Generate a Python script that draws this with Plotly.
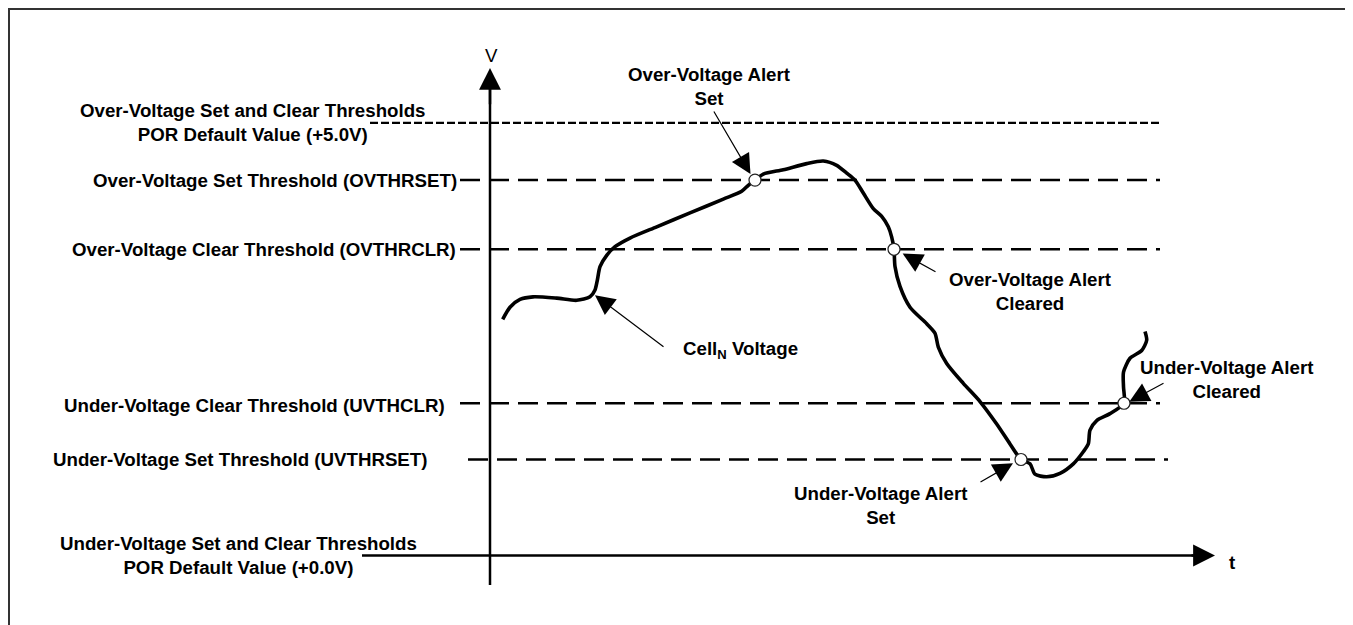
import plotly.graph_objects as go

# ---------------- data ----------------
# Cell_N voltage trace (time in arbitrary units, voltage in V)
t_cell = [1.27, 2.0, 3.0, 4.3, 6.67, 8.67, 10.0, 10.5, 10.73, 11.0, 11.67, 12.5, 14.0, 16.67,
          20.0, 23.33, 25.17, 25.83, 26.5, 27.33, 29.33, 31.67, 33.33, 34.67, 35.67, 36.5,
          37.33, 38.33, 39.17, 39.83, 40.17, 40.4, 40.5, 41.0, 42.0, 43.67, 44.5, 44.83,
          45.67, 47.33, 49.0, 50.67, 52.0, 53.1, 54.0, 54.5, 55.67, 57.0, 58.33, 59.33,
          59.83, 60.0, 60.67, 62.0, 63.4, 63.35, 63.35, 64.0, 65.17, 65.67, 65.5]
v_cell = [2.73, 2.87, 2.96, 2.99, 2.975, 2.95, 2.99, 3.07, 3.18, 3.34, 3.47, 3.57, 3.67, 3.80,
          3.96, 4.12, 4.21, 4.28, 4.34, 4.41, 4.46, 4.53, 4.56, 4.51, 4.42, 4.34,
          4.19, 4.01, 3.92, 3.80, 3.68, 3.54, 3.34, 3.11, 2.87, 2.68, 2.57, 2.41,
          2.22, 1.99, 1.78, 1.52, 1.29, 1.11, 1.06, 0.94, 0.91, 0.95, 1.06, 1.20,
          1.29, 1.45, 1.56, 1.64, 1.76, 1.95, 2.12, 2.28, 2.37, 2.49, 2.59]

# Thresholds (V)
thr_labels = ["Over-Voltage Set Threshold (OVTHRSET)",
              "Over-Voltage Clear Threshold (OVTHRCLR)",
              "Under-Voltage Clear Threshold (UVTHCLR)",
              "Under-Voltage Set Threshold (UVTHRSET)"]
thr_values = [4.34, 3.54, 1.76, 1.11]
thr_t_start = [-3.0, -3.0, -3.0, -2.2]
thr_t_end = [67.0, 67.0, 67.0, 67.8]
thr_label_t = [-3.1, -3.2, -4.3, -6.1]

por_labels = ["Over-Voltage Set and Clear Thresholds<br>POR Default Value (+5.0V)",
              "Under-Voltage Set and Clear Thresholds<br>POR Default Value (+0.0V)"]
por_values = [5.0, 0.0]
por_label_t = [-23.8, -25.2]

# Alert events (time, voltage, label, label position, arrow tail)
alert_t = [26.5, 40.4, 53.1, 63.4]
alert_v = [4.34, 3.54, 1.11, 1.76]
alert_labels = ["Over-Voltage Alert<br>Set", "Over-Voltage Alert<br>Cleared",
                "Under-Voltage Alert<br>Set", "Under-Voltage Alert<br>Cleared"]
alert_label_t = [21.9, 54.0, 39.0, 73.6]
alert_label_v = [5.42, 3.05, 0.58, 2.04]
alert_tail_t = [22.3, 44.7, 48.9, 67.5]
alert_tail_v = [5.15, 3.27, 0.84, 2.00]
alert_tip_t = [26.05, 41.27, 52.3, 63.93]
alert_tip_v = [4.41, 3.49, 1.066, 1.778]

cell_label = "Cell<sub>N</sub> Voltage"
cell_label_t, cell_label_v = 25.0, 2.376
cell_tail = (17.5, 2.40)
cell_tip = (10.5, 3.01)

# ---------------- figure ----------------
FONT = "Liberation Sans, Arial, sans-serif"
FS = 18.7
TXT = dict(family=FONT, size=FS, color="black")
W, H = 1345, 617
fig = go.Figure()

# POR default line (+5.0 V)
fig.add_trace(go.Scatter(x=[-12, 67], y=[por_values[0]] * 2, mode="lines",
                         line=dict(color="black", width=2.3, dash="8px,3px"),
                         hoverinfo="skip"))

# threshold lines
for v, t0, t1 in zip(thr_values, thr_t_start, thr_t_end):
    fig.add_trace(go.Scatter(x=[t0, t1], y=[v, v], mode="lines",
                             line=dict(color="black", width=2.5, dash="20px,9px"),
                             hoverinfo="skip"))

# axes lines
fig.add_trace(go.Scatter(x=[-12.8, 71], y=[0, 0], mode="lines",
                         line=dict(color="black", width=2.5), hoverinfo="skip"))
fig.add_trace(go.Scatter(x=[0, 0], y=[-0.34, 5.5], mode="lines",
                         line=dict(color="black", width=2.5), hoverinfo="skip"))

# cell voltage curve
fig.add_trace(go.Scatter(x=t_cell, y=v_cell, mode="lines",
                         line=dict(color="black", width=3.6, shape="spline", smoothing=0.7),
                         hoverinfo="skip"))

# alert points
fig.add_trace(go.Scatter(x=alert_t, y=alert_v, mode="markers",
                         marker=dict(size=12, color="white", line=dict(color="#222", width=1.2)),
                         hoverinfo="skip"))

annotations = []
# axis arrowheads
annotations.append(dict(x=0, y=5.636, ax=0, ay=5.2, xref="x", yref="y", axref="x", ayref="y",
                        text="", showarrow=True, arrowhead=2, arrowwidth=2.5, arrowsize=1.75,
                        arrowcolor="black"))
annotations.append(dict(x=72.5, y=0, ax=70, ay=0, xref="x", yref="y", axref="x", ayref="y",
                        text="", showarrow=True, arrowhead=2, arrowwidth=2.5, arrowsize=1.75,
                        arrowcolor="black"))
annotations.append(dict(x=0.1, y=5.78, xref="x", yref="y", text="V", showarrow=False,
                        font=TXT, xanchor="center", yanchor="middle"))
annotations.append(dict(x=74.2, y=-0.075, xref="x", yref="y", text="<b>t</b>", showarrow=False,
                        font=TXT, xanchor="center", yanchor="middle"))

# threshold labels
for lab, v, tx, ys in zip(thr_labels, thr_values, thr_label_t, [0, 0, -2, 0]):
    annotations.append(dict(x=tx, y=v, xref="x", yref="y", text="<b>" + lab + "</b>",
                            showarrow=False, xanchor="right", yanchor="middle", yshift=ys,
                            font=TXT))

for lab, v, tx in zip(por_labels, por_values, por_label_t):
    annotations.append(dict(x=tx, y=v, xref="x", yref="y", text="<b>" + lab + "</b>",
                            showarrow=False, xanchor="center", yanchor="middle", align="center",
                            font=TXT))

# alert labels + pointer arrows
for lab, lt, lv, at, av, pt, pv in zip(alert_labels, alert_label_t, alert_label_v,
                                       alert_tail_t, alert_tail_v, alert_tip_t, alert_tip_v):
    annotations.append(dict(x=lt, y=lv, xref="x", yref="y", text="<b>" + lab + "</b>",
                            showarrow=False, xanchor="center", yanchor="middle", align="center",
                            font=TXT))
    annotations.append(dict(x=pt, y=pv, ax=at, ay=av, xref="x", yref="y", axref="x", ayref="y",
                            text="", showarrow=True, arrowhead=2, arrowwidth=1.2, arrowsize=3.3,
                            arrowcolor="black"))

annotations.append(dict(x=cell_label_t, y=cell_label_v, xref="x", yref="y",
                        text="<b>" + cell_label + "</b>", showarrow=False,
                        xanchor="center", yanchor="middle", font=TXT))
annotations.append(dict(x=cell_tip[0], y=cell_tip[1], ax=cell_tail[0], ay=cell_tail[1],
                        xref="x", yref="y", axref="x", ayref="y", text="", showarrow=True,
                        arrowhead=2, arrowwidth=1.2, arrowsize=3.3, arrowcolor="black"))

fig.update_layout(
    width=W, height=H,
    margin=dict(l=0, r=0, t=0, b=0),
    paper_bgcolor="white", plot_bgcolor="white",
    showlegend=False,
    xaxis=dict(range=[-48.2, 86.3], visible=False, fixedrange=True),
    yaxis=dict(range=[-0.803, 6.329], visible=False, fixedrange=True),
    annotations=annotations,
    shapes=[dict(type="rect", xref="paper", yref="paper",
                 x0=1 / W, x1=1341 / W, y0=-0.05, y1=1 - 1 / H,
                 line=dict(color="#333", width=2), fillcolor="rgba(0,0,0,0)", layer="above")],
)

fig.write_html("out.html", config={"displayModeBar": False})
